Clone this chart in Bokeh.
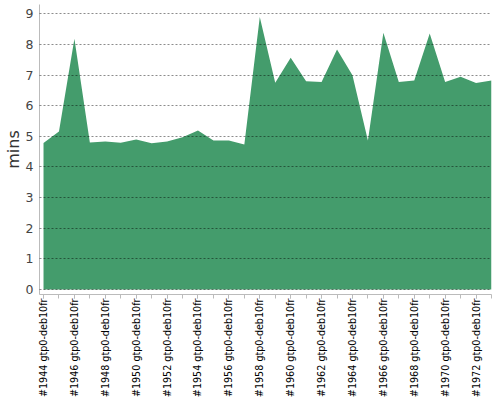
import math
from bokeh.plotting import figure
from bokeh.models import ColumnDataSource, FixedTicker, Range1d
from bokeh.embed import file_html
from bokeh.resources import INLINE

categories = ["#%d gtp0-deb10fr" % n for n in [
    1944, 1945, 1946, 1947, 1948, 1949, 1950, 1951, 1952, 1953,
    1954, 1955, 1956, 1957, 1958, 1959, 1960, 1961, 1962, 1963,
    1964, 1965, 1966, 1967, 1968, 1969, 1970, 1971, 1972, 1973]]
values = [4.78, 5.16, 8.18, 4.80, 4.83, 4.79, 4.90, 4.77, 4.83, 4.97,
          5.19, 4.86, 4.86, 4.73, 8.89, 6.75, 7.56, 6.80, 6.77, 7.83,
          6.99, 4.86, 8.38, 6.77, 6.82, 8.35, 6.77, 6.94, 6.74, 6.82]
y_ticks = [0, 1, 2, 3, 4, 5, 6, 7, 8, 9]

idx = list(range(len(categories)))
src = ColumnDataSource(dict(x=idx, y=values, y0=[0] * len(values)))

p = figure(width=500, height=400, output_backend="svg", toolbar_location=None,
           x_range=Range1d(-0.26, len(categories) - 1),
           y_range=Range1d(-0.16, 9.3),
           min_border_left=39, min_border_right=9, min_border_top=4, min_border_bottom=100)
p.outline_line_color = None
p.background_fill_color = "white"
p.border_fill_color = "white"

p.varea(x="x", y1="y0", y2="y", source=src, fill_color="#449c6c")

# x axis
p.xaxis.ticker = FixedTicker(ticks=idx[::2], minor_ticks=idx)
p.xaxis.major_label_overrides = {i: categories[i] for i in idx}
p.xaxis.major_label_orientation = math.pi / 2
p.xaxis.major_label_text_font = "DejaVu Sans"
p.xaxis.major_label_text_font_size = "9.6px"
p.xaxis.major_label_text_color = "#000000"
p.xaxis.axis_line_color = "#bbbbbb"
p.xaxis.major_tick_line_color = "#bbbbbb"
p.xaxis.minor_tick_line_color = "#bbbbbb"
p.xaxis.major_tick_out = 4
p.xaxis.major_tick_in = 0
p.xaxis.minor_tick_out = 4
p.xaxis.minor_tick_in = 0
p.xaxis.major_label_standoff = 0

# y axis
p.yaxis.ticker = FixedTicker(ticks=y_ticks)
p.yaxis.axis_label = "mins"
p.yaxis.axis_label_text_font = "DejaVu Sans"
p.yaxis.axis_label_text_font_style = "normal"
p.yaxis.axis_label_text_font_size = "16px"
p.yaxis.axis_label_text_color = "#333333"
p.yaxis.axis_label_standoff = 0
p.yaxis.major_label_text_font = "DejaVu Sans"
p.yaxis.major_label_text_font_size = "12.5px"
p.yaxis.major_label_text_color = "#444444"
p.yaxis.axis_line_color = "#bbbbbb"
p.yaxis.major_tick_line_color = None
p.yaxis.minor_tick_line_color = None
p.yaxis.major_tick_out = 0
p.yaxis.major_tick_in = 0
p.yaxis.minor_tick_out = 0
p.yaxis.minor_tick_in = 0
p.yaxis.major_label_standoff = 6

p.xgrid.grid_line_color = None
p.ygrid.grid_line_color = "#000000"
p.ygrid.grid_line_alpha = 0.45
p.ygrid.grid_line_dash = "2 2"
p.ygrid.level = "overlay"

open("out.html", "w").write(file_html(p, INLINE))
